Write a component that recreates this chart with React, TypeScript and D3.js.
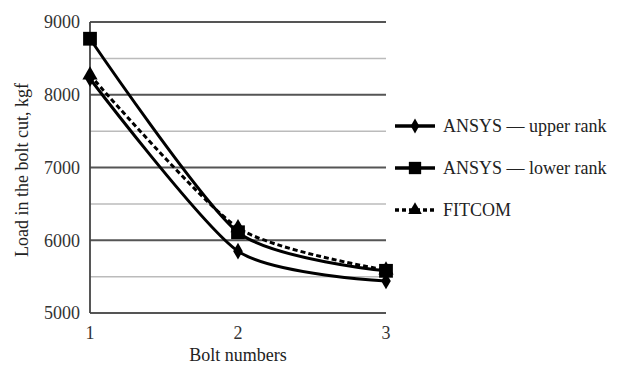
import React from "react"
import { scaleLinear, line, curveCardinal, range, symbol, symbolSquare, symbolDiamond, symbolTriangle } from "d3"

const bolts = [1, 2, 3]
const upperRank = [8220, 5850, 5440]
const lowerRank = [8770, 6110, 5580]
const fitcom = [8270, 6170, 5590]
const yTicks = [5000, 6000, 7000, 8000, 9000]

const width = 625
const height = 367
const margin = { top: 22, right: 239, bottom: 54, left: 90 }

const series = [
  { name: "ANSYS — upper rank", values: upperRank, sym: symbolDiamond, size: 80, dash: "" },
  { name: "ANSYS — lower rank", values: lowerRank, sym: symbolSquare, size: 190, dash: "" },
  { name: "FITCOM", values: fitcom, sym: symbolTriangle, size: 100, dash: "5,3" },
]

function App() {
  const innerWidth = width - margin.left - margin.right
  const innerHeight = height - margin.top - margin.bottom

  const xScale = scaleLinear().domain([1, 3]).range([0, innerWidth])
  const yScale = scaleLinear().domain([5000, 9000]).range([innerHeight, 0])

  const minor = range(5500, 9000, 1000)

  // excel-like smoothing, a bit tighter than catmull-rom
  const path = line<number>()
    .x((d, i) => xScale(bolts[i]))
    .y(d => yScale(d))
    .curve(curveCardinal.tension(0.3))

  const font = "'Liberation Serif', 'Times New Roman', serif"

  return (
    <svg width={width} height={height} style={{ position: "absolute", left: 0, top: 0, background: "#fff" }} fontFamily={font}>
      <g transform={`translate(${margin.left}, ${margin.top})`}>
        {minor.map(t => (
          <line key={t} x1={0} x2={innerWidth} y1={yScale(t)} y2={yScale(t)} stroke="#bbb" strokeWidth={1.5} />
        ))}
        {yTicks.map(t => (
          <g key={t} transform={`translate(0, ${yScale(t)})`}>
            <line x2={innerWidth} stroke="#555" strokeWidth={1.8} />
            <text x={-10} dy="0.35em" textAnchor="end" fontSize={18} fill="#333">{t}</text>
          </g>
        ))}
        <line y1={0} y2={innerHeight} stroke="#444" strokeWidth={1.8} />
        {bolts.map(b => (
          <text key={b} x={xScale(b)} y={innerHeight + 26} textAnchor="middle" fontSize={18} fill="#333">{b}</text>
        ))}
        {series.map(s => (
          <g key={s.name}>
            <path d={path(s.values) || ""} fill="none" stroke="#000" strokeWidth={3} strokeDasharray={s.dash} />
            {s.values.map((v, i) => (
              <path key={i} d={symbol(s.sym, s.size)() || ""} transform={`translate(${xScale(bolts[i])}, ${yScale(v)})`} fill="#000" />
            ))}
          </g>
        ))}
      </g>
      <text transform={`translate(28, 170) rotate(-90)`} textAnchor="middle" fontSize={18} fill="#222">
        Load in the bolt cut, kgf
      </text>
      <text x={margin.left + innerWidth / 2} y={361} textAnchor="middle" fontSize={18} fill="#222">Bolt numbers</text>
      {series.map((s, i) => {
        const y = 126 + i * 42
        return (
          <g key={s.name} transform={`translate(395, ${y})`}>
            <line x1={0} x2={40} stroke="#000" strokeWidth={3.5} strokeDasharray={s.dash ? "4,3" : ""} />
            <path d={symbol(s.sym, s.size * 0.8)() || ""} transform="translate(20, 0)" fill="#000" />
            <text x={48} dy="0.35em" fontSize={18} fill="#222">{s.name}</text>
          </g>
        )
      })}
    </svg>
  )
}

export default App
